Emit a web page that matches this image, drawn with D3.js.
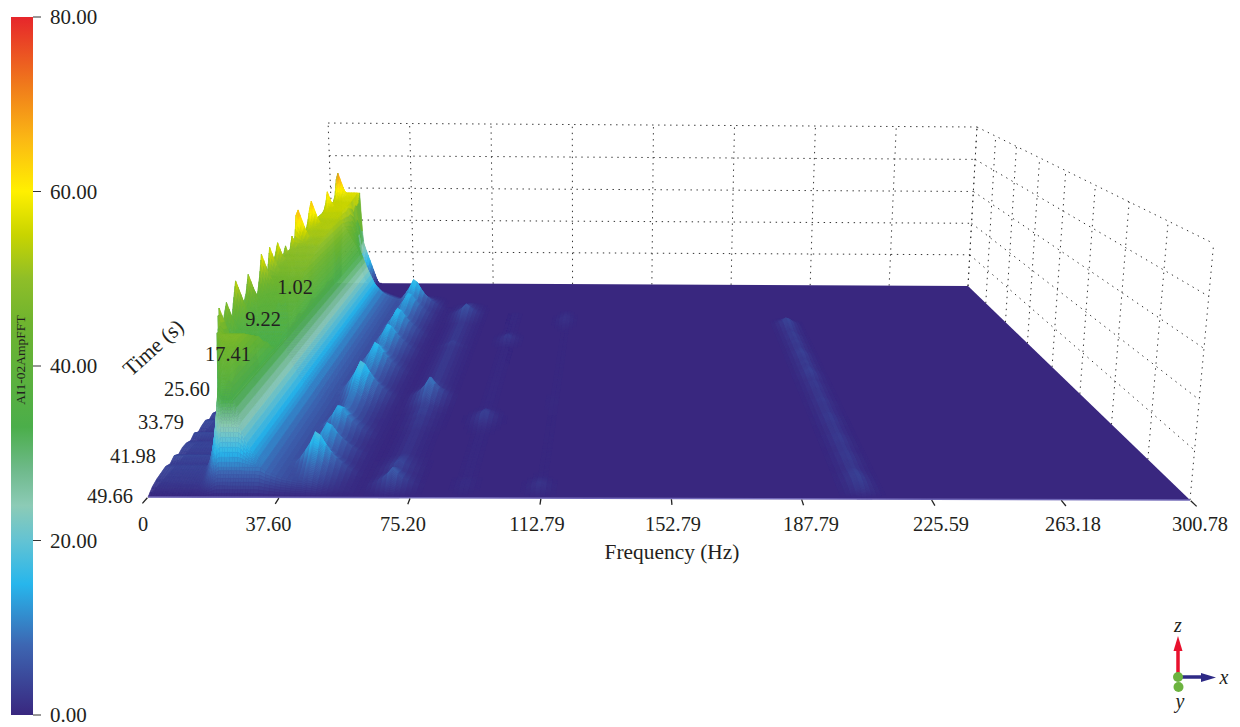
<!DOCTYPE html>
<html><head><meta charset="utf-8">
<script src="https://cdnjs.cloudflare.com/ajax/libs/d3/7.8.5/d3.min.js"></script>
<style>html,body{margin:0;background:#fff}svg{display:block}text{font-family:"Liberation Serif",serif;fill:#231f20}</style>
</head><body><svg id="c" width="1240" height="727"></svg>
<script>
// ---------- data ----------
const freqTickLabels=["0","37.60","75.20","112.79","152.79","187.79","225.59","263.18","300.78"];
const timeTickLabels=["1.02","9.22","17.41","25.60","33.79","41.98","49.66"];
const barTicks=[0,20,40,60,80];
const colorValues=[0,8,15,20,24,28,33,45,50,55,60,66,72,80];
const colorHexes=["#39277f","#3d66b2","#27b6ec","#63c3d3","#8ccbb6","#6fba8c","#4bae4a","#6fb42f","#8fbe28","#c8d400","#fff000","#fbb814","#f07c1b","#e6262b"];
// rows run front (49.66 s) to back (1.02 s)
const ridge1Top=[0,10,24,33,37,40,42,44,45,46,47,48,49,50,51,54,43,35,44,50,37,47,56,48,42,46,54,46,43,50,60,48,50,60,51,54,59,50,49,54,49,58,52,67,69,54,50,52,58,64,68,56,52,53,54,56,55,60,66,58,55,57,58,67,70,60];
const ridge1Base=[0,10,24,33,37,40,42,44,45,46,47,47,46,44,42,38,34,34,35,35,36,36,37,37,38,39,39,40,41,41,44,45,46,47,47,48,48,49,49,50,50,50,51,51,51,52,52,52,53,53,53,53,53,54,54,54,55,55,55,55,55,55,56,56,57,57];
const ridge1Left=[19,19,19,18.5,17,16,15,14,12.5,11.5,10,9,8,7,6,5,3.2,3,3,3,3,3,3,3,3,3,3,3,3,3.5,3.5,3.5,3.5,3.5,3.5,3.5,3.5,3.5,3.5,3.5,4,4,4,4,4,4,4,4,4,4,4,4,4,4,4,4,4,4,4,4,4,4,4.5,4.5,4.5,5];
const leftRamp=[6,6,6,6,5,4,3,2,1.5,1.5,1.5,1.5,1.5,1.5,1.5,1.5,1.5,1.5,1.5,1.5,1.5,1.5,1.5,1.5,1.5,1.5,1.5,1.5,1.5,1.5,1.5,1.5,1.5,1.5,1.5,1.5,1.5,1.5,1.5,1.5,1.5,1.5,1.5,1.5,1.5,1.5,1.5,1.5,1.5,1.5,1.5,1.5,1.5,1.5,1.5,1.5,1.5,1.5,1.5,1.5,1.5,1.5,1.5,1.5,1.5,1.5];
const flankStretch=[1,1,1,1,1,1,1,1,1,1,1,1,1,1,1,1,1,1,1,1,1,1,1,1,1,1,1,1,1,1,1,1,1,1,1,1,1,1,1,1,1,1,1,1,1,1,1,1,1,1,1,1,1,1,1.15,1.3,1.5,1.8,2.1,2.5,3,4,5,7,10,14];
const flankHold=[0,0,0,0,0,0,0,0,0,0,0,0,0,0,0,0,0,0,0,0,0,0,0,0,0,0,0,0,0,0,0,0,0,0,0,0,0,0,0,0,0,0,0,0,0,0,0,0,0,0,0,0,0,0,1,2,3,4,5,5.5,6,6.5,7,7.5,8,8];
const stairHeight=[0,2,3,3.5,4,3,4.5,3,4,4,3,4.5,3,4,4.5,3,4,3,3,3,3,3,3,3,3,3,3,3,3,3,3,3,3,3,3,3,3,3,3,3,3,3,3,3,3,3,3,3,3,3,3,3,3,3,3,3,3,3,3,3,3,3,3,3,3,3];
const flankFreq=[0,6,22.5,25,28,32,37,43,50,62];
const flankHeight=[82,72,33,24,15,9,6,4,2,0];
const ridgeFreqs=[45.5,69,90,112,206];
const ridgeHalfWidth=[13,9,7,6,7];
const profileDist=[0,0.15,0.35,0.6,1];
const profileShare=[1,0.72,0.45,0.22,0];
const ridge2=[0,6,10,14,20,14,11,14,16,11,10,12,16,14,11,10,10,11,12,14,17,19,20,15,12,12,13,15,16,18,15,13,12,13,15,16,17,14,13,14,16,17,17,14,13,13,14,15,16,16,14,14,17,19,14,10,6,3,1.5,0,0,0,0,0,0,0];
const ridge3=[0,4,8,6,4,5,4,3,2,2,2,2,2,2,2.5,3,3,4,4,5,8,9,11,9,5,4,3,3,3,3,3,3,3,3,3,3,3,3,4,3,3,3,3,3,3,3,3,4,5,6,7,6,4,3,2,1,0,0,0,0,0,0,0,0,0,0];
const ridge4=[0,0.5,1,1,0.5,0.5,0.5,0.5,0.5,0.5,0.5,0.5,0.5,0.5,1,2,3.5,4,3,1,0.5,0.5,0.5,0.5,0.5,0.5,0.5,0.5,0.5,0.5,0.5,0.5,0.5,0.5,0.5,0.5,0.5,0.5,0.5,1.5,2.5,3,2,1,0.5,0.5,0.5,0.5,0.5,0.5,0.5,0.5,0,0,0,0,0,0,0,0,0,0,0,0,0,0];
const ridge5=[0,1.5,2.5,1.5,0.5,0.3,0.3,0.3,0.3,0.3,0.3,0.3,0.3,0.3,0.3,0.3,0.3,0.3,0.3,0.3,0.4,0.5,0.5,0.4,0.3,0.3,0.3,0.3,0.3,0.3,0.3,0.3,0.3,0.3,0.3,0.3,0.3,0.3,0.3,0.3,0.3,0.3,0.3,0.3,0.3,0.5,1,1.5,2,2,1.5,1,0.5,0,0,0,0,0,0,0,0,0,0,0,0,0];
const ridge6=[0,3,4,4.5,4,3,3,3.5,3.5,3,3,3.5,3.5,3,3,3,3.5,3.5,3,3,3,3.5,3,3,3,3.5,3.5,3,4,4.5,4,3.5,4,3.5,4,4.5,4,3.5,3.5,4,3.5,4,4,3.5,4,4.5,5,5,3,1,0,0,0,0,0,0,0,0,0,0,0,0,0,0,0,0];
const ridgeRows=[ridge2,ridge3,ridge4,ridge5,ridge6];
const spikeSlope=4;
// ---------- layout ----------
const floorFL=[148,497],floorFR=[1190,500],floorBR=[968,286],floorBL=[334,283];
const vanish=[584,7070], boxTopY=127, zBoxMax=100;
const svg=d3.select("#c");
const dx1=floorFR[0]-floorBR[0],dx2=floorBL[0]-floorBR[0],dx3=floorFL[0]-floorFR[0]+floorBR[0]-floorBL[0];
const dy1=floorFR[1]-floorBR[1],dy2=floorBL[1]-floorBR[1],dy3=floorFL[1]-floorFR[1]+floorBR[1]-floorBL[1];
const den=dx1*dy2-dx2*dy1,g=(dx3*dy2-dx2*dy3)/den,h=(dx1*dy3-dx3*dy1)/den;
const a=floorFR[0]-floorFL[0]+g*floorFR[0],b=floorBL[0]-floorFL[0]+h*floorBL[0],c=floorFL[0];
const d=floorFR[1]-floorFL[1]+g*floorFR[1],e=floorBL[1]-floorFL[1]+h*floorBL[1],f0=floorFL[1];
const wBR=g+h+1, kTop=-wBR*(floorBR[1]-boxTopY)/(vanish[1]-boxTopY);
const fx=d3.scaleLinear().domain([0,300.78]).range([0,1]);
const tv=d3.scaleLinear().domain([49.66,1.02]).range([0,1]);
const zk=d3.scaleLinear().domain([0,zBoxMax]).range([0,kTop]);
const rowT=d3.scaleLinear().domain([0,ridge1Top.length-1]).range([49.66,1.02]);
function project(u,v,z){const q=zk(z),w=g*u+h*v+1+q;return[(a*u+b*v+c+q*vanish[0])/w,(d*u+e*v+f0+q*vanish[1])/w];}
const color=d3.scaleLinear().domain(colorValues).range(colorHexes).interpolate(d3.interpolateRgb).clamp(true);
const flank=d3.scaleLinear().domain(flankFreq).range(flankHeight).clamp(true);
const profile=d3.scaleLinear().domain(profileDist).range(profileShare).clamp(true);
// frequency nodes of the mesh: fine where the ridges are, coarse elsewhere
const nodes=[...d3.range(0,30,0.75),...d3.range(30,130,1.5),...d3.range(130,195,5),...d3.range(195,220,1.5),220,240,260,280,300.78];
function height(r,f){
  const top=ridge1Top[r],base=ridge1Base[r],left=ridge1Left[r];
  const ff=f<left?left:left+Math.max(0,f-left-flankHold[r])*flankStretch[r];
  let z=Math.min(base,flank(ff));
  if(f>=left)z=Math.max(z,top-(f-left)*spikeSlope);
  else{const ramp=leftRamp[r],t=Math.max(0,(f-(left-ramp))/ramp);z=Math.max(top,z);z=stairHeight[r]+(z-stairHeight[r])*t*t;}
  ridgeFreqs.forEach((rf,i)=>{z=Math.max(z,ridgeRows[i][r]*profile(Math.abs(f-rf)/ridgeHalfWidth[i]));});
  return z;
}
const Z=ridge1Top.map((_,r)=>nodes.map(f=>height(r,f)));
// paint order: back rows first; columns from the far side toward the centre
const center=d3.bisectLeft(nodes,170);
const colOrder=[...d3.range(0,center),...d3.range(nodes.length-2,center-1,-1)];
const quads=[];
for(let r=Z.length-2;r>=0;r--){
  const subs=r<18?8:4;
  for(let s=subs-1;s>=0;s--){
    const s0=s/subs,s1=(s+1)/subs;
    const t0=rowT(r+s0),t1=rowT(r+s1);
    for(const i of colOrder){
      const zAt=(j,m)=>Z[r][j]+(Z[r+1][j]-Z[r][j])*m;
      const z00=zAt(i,s0),z10=zAt(i+1,s0),z01=zAt(i,s1),z11=zAt(i+1,s1);
      if(Math.max(z00,z10,z01,z11)<0.25)continue;
      const u0=fx(nodes[i]),u1=fx(nodes[i+1]);
      quads.push({p:[project(u0,tv(t0),z00),project(u1,tv(t0),z10),project(u1,tv(t1),z11),project(u0,tv(t1),z01)],z:(z00+z10+z01+z11)/4});
    }
  }
}
// ---------- walls ----------
const wall=svg.append("g").attr("fill","none").attr("stroke","#333").attr("stroke-width",1).attr("stroke-dasharray","1.4 4.6");
const line=d3.line();
const wallLines=[];
d3.range(0,9).forEach(i=>wallLines.push([project(i/8,1,0),project(i/8,1,zBoxMax)]));
d3.range(0,9).forEach(i=>wallLines.push([project(1,i/8,0),project(1,i/8,zBoxMax)]));
d3.range(20,101,20).forEach(z=>{wallLines.push([project(0,1,z),project(1,1,z)]);wallLines.push([project(1,1,z),project(1,0,z)]);});
wall.selectAll("path").data(wallLines).join("path").attr("d",line);
// ---------- floor and surface ----------
svg.append("path").attr("d",line([project(0,0,0),project(1,0,0),project(1,1,0),project(0,1,0)])+"Z").attr("fill",color(0));
svg.append("g").selectAll("path").data(quads).join("path")
  .attr("d",q=>line(q.p)+"Z").attr("fill",q=>color(q.z)).attr("stroke",q=>color(q.z)).attr("stroke-width",0.5);
svg.append("path").attr("d",line([project(0,0,0),project(1,0,0)])).attr("stroke","#6f66b6").attr("stroke-width",1.4).attr("fill","none");
// ---------- frequency axis ----------
const xLab=d3.scaleOrdinal().domain(freqTickLabels).range([143,268.5,403,537,673,811,941,1073,1200]);
svg.append("g").selectAll("path").data(freqTickLabels).join("path")
  .attr("d",(l,i)=>line([project(i/8,-0.002,0),project(i/8,-0.018,0)])).attr("stroke","#222").attr("stroke-width",1.3);
svg.append("g").selectAll("text").data(freqTickLabels).join("text")
  .attr("x",l=>xLab(l)).attr("y",531).attr("text-anchor","middle").attr("font-size",20.4).text(l=>l);
svg.append("text").attr("x",672).attr("y",559).attr("text-anchor","middle").attr("font-size",21.4).text("Frequency (Hz)");
// ---------- time axis ----------
const labX=d3.scaleOrdinal().domain(timeTickLabels).range([295,263,228,187,161,133,110]);
const labY=d3.scaleOrdinal().domain(timeTickLabels).range([294,326,361,396,429,463,503]);
svg.append("g").selectAll("text").data(timeTickLabels).join("text")
  .attr("x",l=>labX(l)).attr("y",l=>labY(l)).attr("text-anchor","middle").attr("font-size",20.4).text(l=>l);
svg.append("text").attr("transform","translate(158,353) rotate(-42)").attr("text-anchor","middle").attr("font-size",21.5).text("Time (s)");
// ---------- colour bar ----------
const barY=d3.scaleLinear().domain([0,80]).range([715,17]);
const defs=svg.append("defs");
const grad=defs.append("linearGradient").attr("id","bar").attr("x1",0).attr("y1",1).attr("x2",0).attr("y2",0);
grad.selectAll("stop").data(colorValues).join("stop").attr("offset",v=>v/80).attr("stop-color",v=>color(v));
svg.append("rect").attr("x",11).attr("y",barY(80)).attr("width",22).attr("height",barY(0)-barY(80)).attr("fill","url(#bar)");
svg.append("g").selectAll("line").data(barTicks).join("line")
  .attr("x1",33).attr("x2",41).attr("y1",v=>barY(v)).attr("y2",v=>barY(v)).attr("stroke","#333").attr("stroke-width",1);
svg.append("g").selectAll("text").data(barTicks).join("text")
  .attr("x",50).attr("y",v=>barY(v)+7).attr("font-size",21).text(v=>v.toFixed(2));
svg.append("text").attr("transform","translate(25,360) rotate(-90)").attr("text-anchor","middle").attr("font-size",13.5).text("AI1-02AmpFFT");
// ---------- orientation triad ----------
const triad=svg.append("g");
triad.append("line").attr("x1",1178).attr("y1",677).attr("x2",1178).attr("y2",650).attr("stroke","#e8112d").attr("stroke-width",3.5);
triad.append("path").attr("d",line([[1178,636],[1182.5,651],[1173.5,651]])+"Z").attr("fill","#e8112d");
triad.append("line").attr("x1",1178).attr("y1",677).attr("x2",1202).attr("y2",677).attr("stroke","#2e2a86").attr("stroke-width",3.5);
triad.append("path").attr("d",line([[1216,677.5],[1201,673],[1201,682]])+"Z").attr("fill","#2e2a86");
triad.append("circle").attr("cx",1178).attr("cy",677).attr("r",5).attr("fill","#6cb33f");
triad.append("circle").attr("cx",1178.5).attr("cy",687).attr("r",5).attr("fill","#6cb33f");
[["z",1178,632],["x",1224,684],["y",1180,708]].forEach(t=>triad.append("text").attr("x",t[1]).attr("y",t[2]).attr("text-anchor","middle").attr("font-size",20).attr("font-style","italic").text(t[0]));
</script></body></html>
